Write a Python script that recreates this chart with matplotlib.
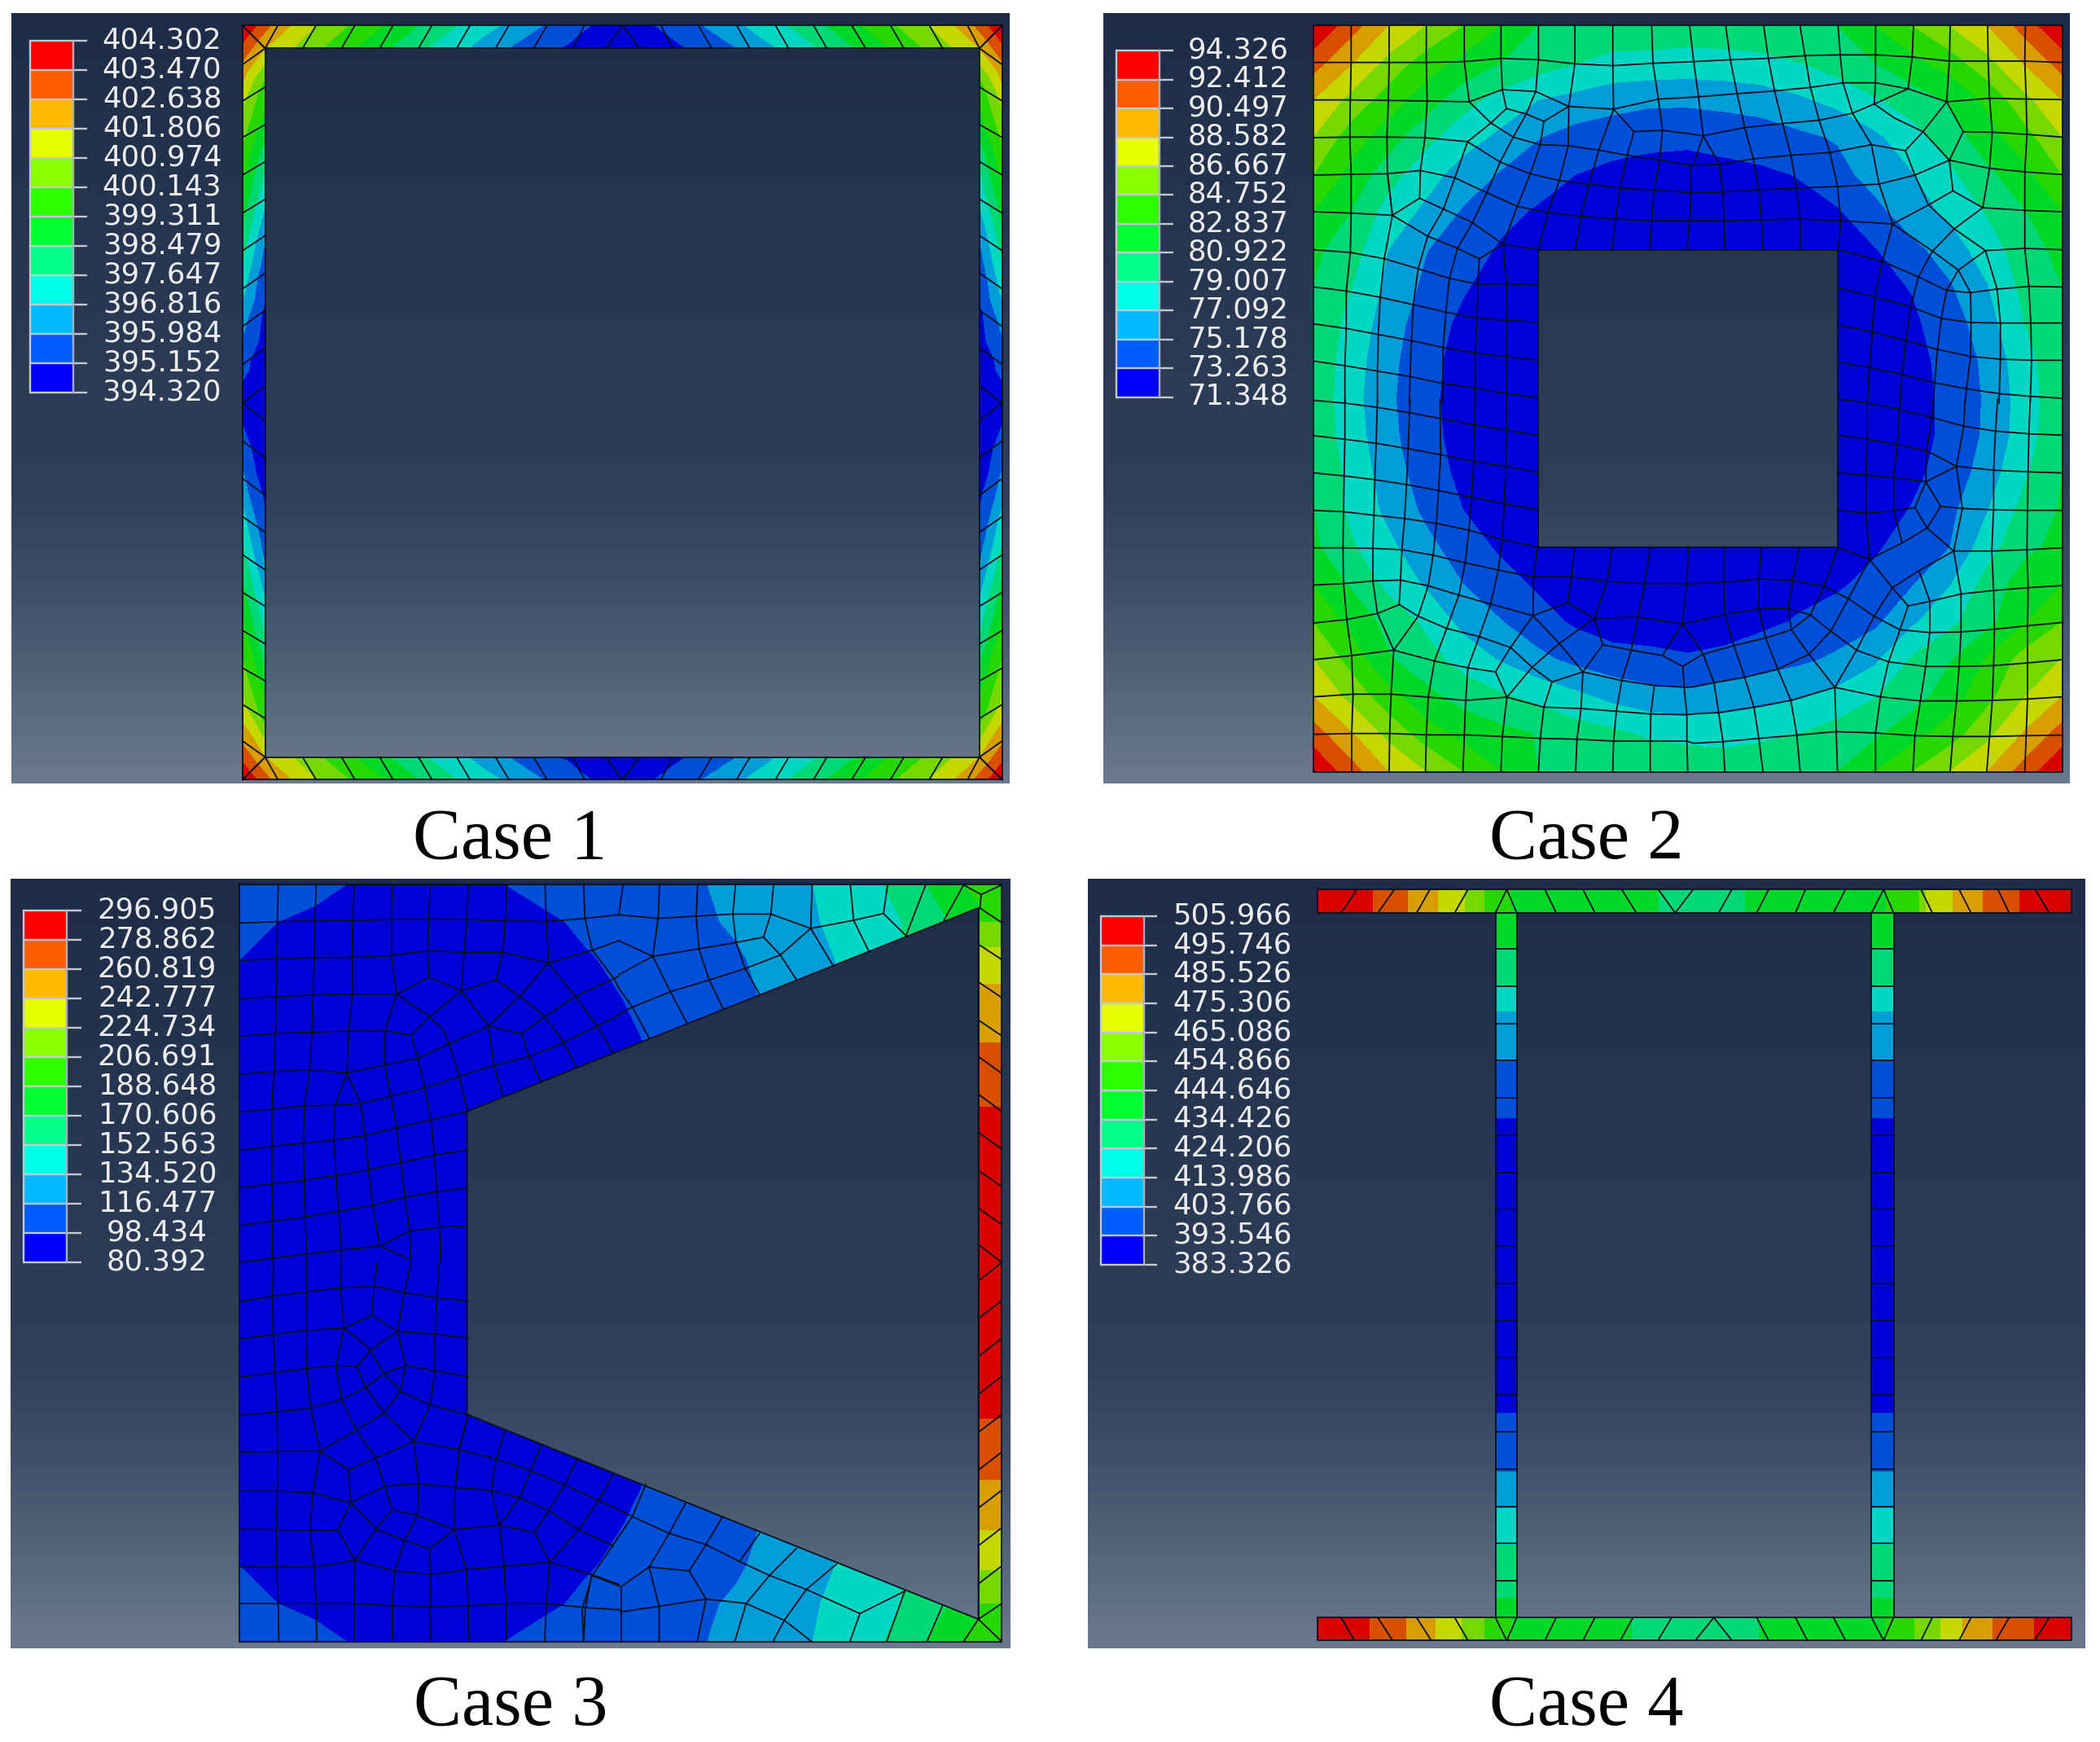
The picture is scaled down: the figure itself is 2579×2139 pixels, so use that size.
import numpy as np
import matplotlib
matplotlib.use("Agg")
import matplotlib.pyplot as plt
import matplotlib.tri as mtri
from matplotlib.patches import Rectangle, PathPatch
from matplotlib.path import Path
from matplotlib.colors import ListedColormap

W, H = 2579, 2139
N = np.nan
legend_rgb = ['#0000ff', '#005dff', '#00b9ff', '#00ffe8', '#00ff8b', '#00ff2e', '#2eff00', '#8bff00', '#e8ff00', '#ffb900', '#ff5d00', '#ff0000']
field_rgb = ['#0000d8', '#004fd8', '#009dd8', '#00d8c4', '#00d875', '#00d827', '#27d800', '#75d800', '#c4d800', '#d89d00', '#d84f00', '#d80000']
levels = np.arange(13)
bg_stops = [0.0, 0.35, 0.62, 0.75, 0.88, 1.0]
bg_rgb = [(30, 44, 71), (40, 56, 82), (47, 63, 88), (62, 79, 103), (84, 101, 124), (108, 122, 145)]

labels1 = ['404.302', '403.470', '402.638', '401.806', '400.974', '400.143', '399.311', '398.479', '397.647', '396.816', '395.984', '395.152', '394.320']
labels2 = ['94.326', '92.412', '90.497', '88.582', '86.667', '84.752', '82.837', '80.922', '79.007', '77.092', '75.178', '73.263', '71.348']
labels3 = ['296.905', '278.862', '260.819', '242.777', '224.734', '206.691', '188.648', '170.606', '152.563', '134.520', '116.477', '98.434', '80.392']
labels4 = ['505.966', '495.746', '485.526', '475.306', '465.086', '454.866', '444.646', '434.426', '424.206', '413.986', '403.766', '393.546', '383.326']

# ---- Case 1: frame
c1_top_outer = [362, 415, 472, 530, 587, 645, 702, 760, 817, 873, 930, 930, 987, 1043, 1100, 1158, 1215, 1272, 1330, 1388, 1445, 1497]
c1_top_inner = [396, 396, 452, 510, 567, 625, 682, 740, 797, 855, 905, 955, 1005, 1063, 1120, 1178, 1235, 1293, 1350, 1408, 1463, 1463]
c1_top_vo = [12, 9.5, 8, 6.8, 5.7, 4.6, 3.7, 2.8, 1.9, 1.1, .5, .5, 1.1, 1.9, 2.8, 3.7, 4.6, 5.7, 6.8, 8, 9.5, 12]
c1_top_vi = [9, 9, 7.6, 6.4, 5.3, 4.2, 3.3, 2.3, 1.4, .8, .3, .3, .8, 1.4, 2.3, 3.3, 4.2, 5.3, 6.4, 7.6, 9, 9]
c1_left_outer = [45, 115, 180, 245, 312, 380, 447, 515, 582, 650, 718, 718, 786, 853, 921, 989, 1056, 1124, 1191, 1256, 1321, 1391]
c1_left_inner = [86, 86, 155, 222, 288, 355, 420, 487, 553, 620, 688, 750, 816, 883, 949, 1016, 1081, 1148, 1214, 1281, 1350, 1350]
c1_left_vo = [12, 9.8, 8.2, 7.2, 6.3, 5.3, 4.3, 3.3, 2.2, 1.3, .6, .6, 1.3, 2.2, 3.3, 4.3, 5.3, 6.3, 7.2, 8.2, 9.8, 12]
c1_left_vi = [9, 9, 6.5, 5.5, 4.2, 3.2, 2.1, 1.3, .8, .5, .2, .2, .5, .8, 1.3, 2.1, 3.2, 4.2, 5.5, 6.5, 9, 9]

# ---- Case 2: plate with a square hole, nodal band values
c2_x = [392, 448, 504, 560, 616, 672, 728, 784, 840, 896, 952, 1008, 1064, 1120, 1176, 1232, 1288, 1344, 1400, 1456, 1512]
c2_y = [45, 111, 178, 244, 311, 377, 445, 510, 577, 643, 710, 777, 843, 909, 976, 1042, 1109, 1175, 1242, 1308, 1376]
c2_z = [
 [12,10.45,9,8,7,6,5,4.85,4.7,4.6,4.55,4.6,4.7,4.85,5,6,7,8,9,10.45,12],
 [10.45,9.1,7.7,6.5,5.7,5.0,4.5,4.05,3.7,3.7,3.6,3.65,3.75,4.0,4.45,5.0,5.7,6.5,7.7,9.1,10.45],
 [9,7.7,6.5,5.5,4.4,3.6,3.0,2.7,2.4,2.2,2.2,2.3,2.5,2.85,3.3,3.9,4.5,5.1,6.2,7.7,9],
 [8,6.5,5.5,4.3,3.4,2.8,2.05,1.6,1.4,1.25,1.2,1.35,1.45,1.8,2.1,2.8,3.6,4.5,5.6,6.6,8],
 [7,5.7,4.4,3.4,2.6,1.9,1.4,1.0,.75,.65,.6,.7,.85,1.05,1.65,2.4,2.95,3.8,4.75,5.7,7],
 [6,5,3.6,2.8,1.9,1.25,.9,.6,.5,.45,.4,.45,.55,.7,.9,1.7,2.6,3.2,4.1,4.95,6],
 [5.2,4.5,3,2.05,1.4,.9,.55,.4,.3,.3,.3,.3,.3,.35,.5,.95,1.7,2.5,3.5,4.55,5.3],
 [5.0,4.05,2.75,1.8,1.1,.6,.3,N,N,N,N,N,N,N,.3,.75,1.05,1.9,2.95,4.3,5.0],
 [4.8,3.7,2.5,1.45,.8,.5,.25,N,N,N,N,N,N,N,.25,.6,.85,1.45,2.6,4.0,4.85],
 [4.75,3.5,2.3,1.3,.65,.45,.2,N,N,N,N,N,N,N,.2,.5,.75,1.25,2.25,3.65,4.75],
 [4.7,3.4,2.2,1.25,.6,.4,.2,N,N,N,N,N,N,N,.2,.45,.7,1.2,2.15,3.5,4.7],
 [4.75,3.5,2.3,1.3,.65,.45,.2,N,N,N,N,N,N,N,.2,.45,.7,1.2,2.2,3.55,4.8],
 [5.0,3.7,2.5,1.5,.75,.5,.3,N,N,N,N,N,N,N,.2,.5,.8,1.35,2.5,3.85,5.0],
 [5.05,3.8,2.75,1.8,1.0,.6,.3,N,N,N,N,N,N,N,.25,.6,1.05,1.75,2.95,4.35,5.1],
 [5.2,4.15,3.25,2.3,1.5,.85,.4,.3,.3,.3,.3,.3,.3,.3,.3,.85,1.55,2.0,3.6,4.75,5.3],
 [6,4.9,3.7,2.9,2,1.4,.85,.5,.45,.4,.4,.45,.5,.7,.85,1.35,1.95,2.95,4.4,5.5,6],
 [7,5.7,4.7,3.8,2.7,2.05,1.4,.85,.55,.5,.45,.55,.8,1.1,1.5,1.8,2.85,3.75,4.7,5.95,7],
 [8,6.6,5.1,4.4,3.6,2.9,2.25,1.7,1.35,1.25,1.1,1.25,1.55,1.8,2.15,2.8,4.1,4.9,6.1,7.4,8],
 [9,7.7,6.4,5.3,4.6,4.15,3.7,3.25,2.7,2.35,2.25,2.5,2.65,2.9,3.3,3.95,4.6,5.5,6.7,8,9],
 [10.45,9.1,7.7,6.5,5.7,5.3,4.95,4.5,4.2,3.85,3.75,3.6,3.8,4,4.45,4.8,5.6,6.5,7.7,9.1,10.45],
 [12,10.45,9,8,7,6,5,4.85,4.7,4.6,4.55,4.6,4.7,4.85,5,6,7,8,9,10.45,12],
]
c2_mesh_a = [  # top-left quarter
 [(10,155),(148,155),(288,155),(425,155),(565,152),(700,140),(838,145),(972,160),(1112,167),(1260,158),(1410,152)],
 [(10,293),(145,293),(285,295),(428,297),(583,300),(705,255),(828,262),(950,317),(1115,327),(1280,290),(1410,283)],
 [(10,432),(143,430),(280,430),(420,432),(577,447),(663,378),(720,325),(793,345),(858,372),(950,317)],
 [(583,300),(663,378),(745,430),(845,458),(948,462),(1060,478),(1165,497),(1285,515),(1410,535)],
 [(705,255),(720,325)],
 [(828,262),(793,345),(745,430),(697,522),(648,635),(595,745),(540,840),(510,950),(497,1075),(487,1205),(485,1410)],
 [(858,372),(845,458),(808,565),(760,685),(708,825),(720,970),(722,1100),(722,1240),(720,1410)],
 [(577,447),(697,522),(808,565),(915,590),(1025,603),(1140,618),(1265,625),(1410,635)],
 [(577,447),(530,580),(488,695),(430,795),(395,915),(377,1047),(370,1180),(365,1312),(362,1410)],
 [(10,570),(148,567),(282,565),(403,553),(530,580),(648,635),(760,685),(873,708),(995,722),(1122,732),(1255,738),(1410,738)],
 [(400,655),(488,695),(595,745),(708,825)],
 [(300,718),(400,655),(403,553),(420,432),(428,297),(425,155),(425,20)],
 [(300,718),(430,795),(540,840),(620,878),(708,825)],
 [(10,705),(148,710),(300,718),(282,565)],
 [(10,845),(145,855),(270,878),(395,915),(510,950),(615,972),(722,970),(835,975)],
 [(10,982),(130,997),(255,1020),(377,1047),(497,1075),(612,1097),(722,1105),(835,1112)],
 [(10,1118),(130,1135),(248,1157),(370,1180),(487,1205),(605,1225),(722,1240),(835,1252)],
 [(10,1255),(125,1272),(245,1292),(365,1312),(472,1335),(605,1355),(720,1375),(835,1390)],
 [(148,20),(148,155),(145,293),(143,430),(148,567),(148,710),(145,855),(130,997),(130,1135),(125,1272),(125,1410)],
 [(288,20),(288,155),(285,295),(280,430),(282,565),(300,718),(270,878),(255,1020),(248,1157),(245,1292),(245,1410)],
 [(565,20),(565,152),(583,300)],
 [(700,20),(700,140),(705,255)],
 [(838,20),(838,145),(828,262)],
 [(972,20),(972,160),(950,317),(948,462),(915,590),(873,708),(838,845)],
 [(1112,20),(1112,167),(1115,327),(1060,478),(1025,603),(995,722),(975,845)],
 [(1115,327),(1190,410),(1165,497),(1140,618),(1122,732),(1110,845)],
 [(1190,410),(1295,405),(1410,420)],
 [(1255,20),(1260,158),(1280,290),(1295,405),(1285,515),(1265,625),(1255,738),(1248,845)],
 [(1395,20),(1410,152)],
 [(620,878),(615,972),(612,1097),(605,1225),(605,1355),(605,1410)],
 [(708,825),(838,845)],
 [(1400,535),(1400,635),(1395,738),(1385,845)],
]
c2_mesh_b = [  # top-right quarter
 [(0,152),(135,145),(275,140),(410,130),(540,127),(670,127),(805,135),(942,150),(1085,150),(1220,150),(1358,155)],
 [(0,283),(160,270),(298,260),(430,247),(550,230),(670,230),(790,252),(932,300),(1090,287),(1225,290),(1358,292)],
 [(0,420),(35,425),(188,395),(328,380),(462,368),(585,342),(665,308),(740,360),(845,410),(942,515),(1090,545),(1220,558),(1358,568)],
 [(665,308),(790,252)],
 [(932,300),(845,410),(780,480),(655,458),(585,342)],
 [(932,300),(993,410),(942,515)],
 [(993,410),(1100,412),(1228,420),(1358,430)],
 [(0,535),(95,530),(220,510),(358,497),(502,487),(655,458)],
 [(0,635),(108,632),(240,625),(380,618),(530,612),(683,603),(815,570),(942,515)],
 [(0,738),(112,738),(250,735),(392,732),(542,738),(733,750),(865,680),(955,628),(1065,690),(1220,700),(1358,705)],
 [(955,628),(942,515)],
 [(865,680),(815,570),(780,480)],
 [(1065,690),(960,768),(880,850),(828,945),(800,1055),(782,1180),(768,1305),(760,1410)],
 [(733,750),(880,850),(975,920),(1075,848),(1220,840),(1358,845)],
 [(960,768),(1075,848)],
 [(865,680),(960,768)],
 [(975,920),(1020,1003),(1118,990),(1235,980),(1358,982)],
 [(932,995),(975,920)],
 [(532,845),(695,888),(828,945),(932,995),(1020,1003)],
 [(532,985),(668,1020),(800,1055),(912,1098),(1022,1113),(1130,1115),(1242,1115),(1358,1115)],
 [(532,1122),(658,1148),(782,1180),(898,1212),(1020,1238),(1130,1248),(1245,1252),(1358,1252)],
 [(532,1260),(648,1278),(768,1305),(888,1335),(1005,1357),(1125,1375),(1240,1385),(1358,1392)],
 [(118,20),(135,145),(160,270),(188,395),(220,510),(240,625),(250,735),(255,845)],
 [(258,20),(275,140),(298,260),(328,380),(358,497),(380,618),(392,732),(392,845)],
 [(392,20),(410,130),(430,247),(462,368),(502,487),(530,612),(542,738),(532,845)],
 [(532,20),(540,127),(550,230),(585,342)],
 [(670,20),(670,127),(670,230),(665,308)],
 [(810,20),(805,135),(790,252)],
 [(945,20),(942,150),(932,300)],
 [(1083,20),(1085,150),(1090,287),(1100,412),(1090,545),(1065,690)],
 [(1222,20),(1220,150),(1225,290),(1228,420),(1220,558),(1220,700),(1220,840),(1235,980),(1242,1115),(1245,1252),(1240,1410)],
 [(655,458),(683,603),(733,750),(695,888),(668,1020),(658,1148),(648,1278),(640,1410)],
 [(1075,848),(1118,990),(1130,1115),(1130,1248),(1125,1410)],
 [(1020,1003),(1022,1113),(1020,1238),(1005,1357),(1000,1410)],
 [(932,995),(912,1098),(898,1212),(888,1335),(882,1410)],
 [(0,152),(18,283),(35,425),(0,530)],
 [(35,425),(95,530),(108,632),(112,738),(115,845)],
]
c2_mesh_c = [  # bottom-left quarter
 [(10,5),(125,15),(240,30),(362,50),(478,72),(600,95),(720,115),(835,133)],
 [(10,135),(125,148),(240,163),(358,183),(478,205),(600,230),(718,248),(835,270)],
 [(10,272),(122,283),(235,297),(352,315),(470,337),(592,362),(712,385),(835,408)],
 [(10,410),(120,415),(232,428),(345,440),(462,458),(582,483),(705,518),(835,545)],
 [(10,548),(118,548),(228,550),(335,555),(450,575),(568,603),(690,630),(820,655),(960,655),(1090,672),(1230,680),(1385,680),(1410,680)],
 [(10,685),(120,680),(228,670),(330,667),(432,688),(545,722),(662,755),(818,798)],
 [(10,825),(132,812),(245,790),(325,757),(395,800),(500,845),(620,875),(735,915),(815,988),(888,1042),(1002,1005),(1145,1037),(1265,1055),(1385,1062),(1410,1060)],
 [(818,798),(945,750),(1045,808),(1075,905),(1002,1005),(915,900),(818,798)],
 [(915,900),(1045,808)],
 [(915,900),(815,988),(722,1098)],
 [(735,915),(680,1005),(722,1098),(858,1135),(995,1140),(1125,1150),(1252,1160),(1385,1163),(1410,1160)],
 [(735,915),(818,798)],
 [(1045,808),(1205,803),(1368,828),(1410,820)],
 [(1075,905),(1180,925),(1295,945),(1370,985),(1410,960)],
 [(1295,945),(1368,828),(1410,885)],
 [(10,960),(150,945),(305,925),(455,965),(578,990),(680,1005)],
 [(10,1097),(155,1087),(295,1087),(432,1098),(570,1110),(722,1098)],
 [(10,1235),(150,1232),(290,1232),(425,1237),(565,1237),(705,1243),(845,1250),(980,1253),(1115,1260),(1250,1260),(1385,1260),(1410,1268)],
 [(245,790),(305,925),(395,800)],
 [(325,757),(330,667)],
 [(125,0),(125,148),(122,283),(120,415),(118,548),(120,680),(132,812),(150,945),(155,1087),(150,1232),(150,1370)],
 [(245,0),(240,163),(235,297),(232,428),(228,550),(228,670),(245,790)],
 [(305,925),(295,1087),(290,1232),(288,1370)],
 [(365,0),(358,183),(352,315),(345,440),(335,555),(330,667)],
 [(475,0),(478,205),(470,337),(462,458),(450,575),(432,688),(395,800)],
 [(605,0),(600,230),(592,362),(582,483),(568,603),(545,722),(500,845),(455,965),(432,1098),(425,1237),(422,1370)],
 [(720,0),(718,248),(712,385),(705,518),(690,630),(662,755),(620,875),(578,990),(570,1110),(565,1237),(560,1370)],
 [(835,545),(820,655),(818,798)],
 [(972,545),(960,655),(945,750)],
 [(1110,545),(1090,672),(1045,808)],
 [(1250,545),(1230,680),(1205,803),(1180,925),(1145,1037),(1125,1150),(1115,1260),(1112,1370)],
 [(1390,545),(1385,680),(1368,828)],
 [(1002,1005),(995,1140),(980,1253),(975,1370)],
 [(888,1042),(858,1135),(845,1250),(838,1370)],
 [(722,1098),(705,1243),(700,1370)],
 [(1370,985),(1375,1065),(1385,1163),(1385,1260),(1388,1370)],
 [(1265,1055),(1252,1160),(1250,1260),(1250,1370)],
]
c2_mesh_d = [  # bottom-right quarter
 [(532,0),(640,15),(758,38),(878,68),(995,100),(1112,118),(1235,128),(1358,133)],
 [(532,133),(640,148),(750,168),(858,190),(968,248),(1105,262),(1232,268),(1358,272)],
 [(532,272),(635,280),(738,290),(855,305),(968,248)],
 [(532,410),(635,420),(738,412),(815,400),(860,475),(958,560)],
 [(855,305),(815,400)],
 [(855,305),(910,395),(860,475)],
 [(910,395),(990,403),(1105,408),(1230,410),(1358,410)],
 [(860,475),(768,530),(648,590)],
 [(532,547),(648,590)],
 [(958,560),(1098,560),(1228,555),(1358,548)],
 [(958,560),(830,632),(732,695),(665,800),(600,925),(520,1062)],
 [(648,590),(732,695),(790,762),(870,745),(985,718),(1105,705),(1232,695),(1358,687)],
 [(790,762),(760,850),(870,860),(985,858),(1108,848),(1230,835),(1358,823)],
 [(520,1062),(688,1097),(835,1112),(968,1112),(1100,1110),(1230,1105),(1358,1097)],
 [(600,925),(718,968),(855,985),(978,985),(1105,982),(1230,972),(1358,960)],
 [(360,850),(425,940),(520,1062)],
 [(430,795),(505,855),(600,925)],
 [(570,735),(665,800),(760,850)],
 [(648,590),(570,735),(505,855),(425,940),(310,995),(188,1025),(75,1045),(0,1060)],
 [(430,795),(480,690),(532,547)],
 [(480,690),(570,735)],
 [(480,690),(365,668),(240,663),(110,675),(0,680)],
 [(430,795),(348,772),(240,773),(115,793),(0,820)],
 [(360,850),(265,880),(148,908),(35,940),(0,960)],
 [(0,885),(35,940)],
 [(430,795),(360,850)],
 [(348,772),(360,850)],
 [(365,668),(348,772)],
 [(390,547),(365,668)],
 [(250,547),(240,663),(240,773),(265,880),(310,995),(358,1110),(380,1238),(392,1370)],
 [(112,547),(110,675),(115,793),(148,908),(188,1025),(222,1135),(240,1250),(255,1370)],
 [(35,940),(75,1045),(92,1155),(108,1262),(115,1370)],
 [(520,1062),(525,1225),(530,1370)],
 [(0,1160),(92,1155),(222,1135),(358,1110),(520,1062)],
 [(0,1268),(108,1262),(240,1250),(380,1238),(525,1225),(670,1230),(815,1240),(955,1243),(1090,1243),(1225,1240),(1358,1238)],
 [(760,850),(718,968),(688,1097),(670,1230),(670,1370)],
 [(830,632),(870,745),(870,860),(855,985),(835,1112),(815,1240),(808,1370)],
 [(958,560),(985,718),(985,858),(978,985),(968,1112),(955,1243),(945,1370)],
 [(1120,0),(1112,118),(1105,262),(1105,408),(1098,560),(1105,705),(1108,848),(1105,982),(1100,1110),(1090,1243),(1080,1370)],
 [(1240,0),(1235,128),(1232,268),(1230,410),(1228,555),(1232,695),(1230,835),(1230,972),(1230,1105),(1225,1240),(1220,1370)],
 [(1000,0),(995,100),(968,248),(990,403),(958,560)],
 [(885,0),(878,68),(858,190),(855,305)],
 [(762,0),(758,38),(750,168),(738,290),(738,412),(768,530)],
 [(640,0),(640,148),(635,280),(635,420),(648,590)],
]
c2_mesh_groups = [(1610, 25, c2_mesh_a), (2080, 25, c2_mesh_b), (1610, 490, c2_mesh_c), (2080, 490, c2_mesh_d)]

# ---- Case 3: C-shaped section
c3_x = [358, 415, 470, 530, 585, 642, 698, 755, 815, 875, 930, 985, 1040, 1100, 1155, 1215, 1270, 1320, 1385, 1440, 1497]
c3_y = [38, 105, 172, 240, 308, 375, 443, 713, 983, 1050, 1118, 1185, 1253, 1320, 1388]
c3_z = [
 [1.6,1.4,1.2,.95,.85,.8,.9,1.0,1.2,1.35,1.45,1.6,1.9,2.25,2.6,3.0,3.5,4.0,5.0,6.0,6.5],
 [1.3,1.0,.85,.7,.6,.6,.65,.8,.9,1.1,1.35,1.55,1.85,2.1,2.55,2.9,3.4,3.7,4.4,5.4,6.2],
 [1.0,.8,.6,.5,.45,.45,.5,.6,.75,.95,1.1,1.4,1.7,1.9,2.25,2.7,3.2,3.7,4.5,5.3,6.0],
 [.9,.6,.45,.4,.35,.35,.4,.45,.6,.8,1.0,1.3,1.5,1.75,2.15,2.6,3.1,3.6,4.4,5.2,6.0],
 [.8,.5,.4,.3,.3,.3,.3,.4,.5,.7,.9,1.1,1.4,1.7,2.1,2.5,3.0,3.5,4.3,5.1,6.0],
 [.7,.5,.4,.3,.3,.3,.3,.35,.45,.6,.8,1.05,1.3,1.6,2.0,2.4,2.9,3.4,4.2,5.0,6.0],
 [.6,.4,.3,.25,.25,.25,.25,.3,.4,.5,.7,.95,1.2,1.5,1.9,2.3,2.8,3.3,4.1,5.0,6.0],
 [.5,.3,.2,.2,.2,.2,.2,.2,.3,.4,.5,.7,1.0,1.3,1.7,2.1,2.6,3.1,4.0,5.0,6.0],
 [.6,.4,.3,.25,.25,.25,.25,.3,.4,.5,.7,.95,1.2,1.5,1.9,2.3,2.8,3.3,4.1,5.0,6.0],
 [.7,.5,.4,.3,.3,.3,.3,.35,.45,.6,.8,1.05,1.3,1.6,2.0,2.4,2.9,3.4,4.2,5.0,6.0],
 [.8,.5,.4,.3,.3,.3,.3,.4,.5,.7,.9,1.1,1.4,1.7,2.1,2.5,3.0,3.5,4.3,5.1,6.0],
 [.9,.6,.45,.4,.35,.35,.4,.45,.6,.8,1.0,1.3,1.5,1.75,2.15,2.6,3.1,3.6,4.4,5.2,6.0],
 [1.0,.8,.6,.5,.45,.45,.5,.6,.75,.95,1.1,1.4,1.7,1.9,2.25,2.7,3.2,3.7,4.5,5.3,6.0],
 [1.3,1.0,.85,.7,.6,.6,.65,.8,.9,1.1,1.35,1.55,1.85,2.1,2.55,2.9,3.4,3.7,4.4,5.4,6.2],
 [1.6,1.4,1.2,.95,.85,.8,.9,1.0,1.2,1.35,1.45,1.6,1.9,2.25,2.6,3.0,3.5,4.0,5.0,6.0,6.5],
]
c3_strip_y = [38, 105, 150, 215, 320, 435, 713, 990, 1100, 1190, 1260, 1320, 1388]
c3_strip_v = [6.5, 7, 8, 9, 10, 11, 11.6, 11, 10, 9, 8, 7, 6.2]
c3_hole = [(698, 443), (1462, 80), (1462, 1348), (698, 983)]
c3_mesh_a = [  # upper left
 [(15,160),(152,155),(290,152),(430,150),(572,147),(710,145),(850,147),(992,152),(1143,155),(1285,143),(1410,130)],
 [(15,297),(150,293),(288,288),(428,287),(572,280),(705,262),(840,268),(982,268),(1152,307),(1312,260),(1410,225)],
 [(15,438),(148,432),(283,425),(428,422),(592,422),(710,360),(830,410),(958,370),(1045,430),(1150,307)],
 [(592,422),(712,505),(830,410)],
 [(712,505),(645,573),(548,557),(415,558),(280,563),(145,568),(15,577)],
 [(712,505),(760,550),(785,605)],
 [(830,410),(930,540),(1045,430)],
 [(1150,307),(1250,430),(1392,365),(1410,355)],
 [(958,370),(982,268)],
 [(1045,430),(1138,505),(1050,568),(930,540),(785,605),(670,658),(548,683),(408,712),(270,702),(140,707),(15,718)],
 [(1138,505),(1250,430)],
 [(1138,505),(1207,600),(1255,695)],
 [(1050,568),(1080,652),(1125,745)],
 [(1250,430),(1330,540),(1390,640)],
 [(1410,500),(1330,540),(1207,600),(1080,652),(950,685),(822,725),(695,768),(570,798),(458,825),(365,832),(252,833),(132,845),(15,857)],
 [(645,573),(670,658),(695,768),(718,885),(730,1015),(740,1150),(750,1280),(755,1410)],
 [(785,605),(822,725),(853,855)],
 [(930,540),(950,685),(985,800)],
 [(592,422),(548,557),(548,683),(570,798),(592,915),(607,1043),(622,1170),(640,1295),(642,1400)],
 [(408,712),(365,832),(360,960),(368,1090),(378,1222),(388,1365),(388,1410)],
 [(408,712),(458,825),(475,943),(488,1070),(503,1200),(530,1350)],
 [(853,855),(718,885),(592,915),(475,943),(360,960),(248,972),(132,982),(15,997)],
 [(850,997),(730,1015),(607,1043),(488,1070),(368,1090),(252,1108),(132,1122),(15,1135)],
 [(850,1137),(740,1150),(622,1170),(503,1200),(378,1222),(255,1243),(135,1258),(15,1275)],
 [(850,1277),(750,1280),(640,1295),(530,1350),(388,1365),(260,1380),(135,1395),(15,1410)],
 [(530,1350),(642,1400)],
 [(155,20),(152,155),(150,293),(148,432),(145,568),(140,707),(132,845),(132,982),(132,1122),(135,1258),(135,1410)],
 [(295,20),(290,152),(288,288),(283,425),(280,563),(270,702),(252,833),(248,972),(252,1108),(255,1243),(260,1410)],
 [(435,20),(430,150),(428,287),(428,422),(415,558),(408,712)],
 [(575,20),(572,147),(572,280),(592,422)],
 [(715,20),(710,145),(705,262),(710,360)],
 [(855,20),(850,147),(840,268),(830,410)],
 [(998,20),(992,152),(982,268)],
 [(1138,20),(1143,155),(1152,307)],
 [(1280,20),(1285,143),(1312,260),(1392,365),(1410,400)],
]
c3_mesh_b = [  # lower left
 [(15,143),(135,125),(260,108),(385,95),(508,88),(620,112),(740,130),(855,143)],
 [(15,282),(137,267),(262,250),(398,243),(500,195),(595,255),(733,265),(855,280)],
 [(398,243),(495,322),(595,255)],
 [(495,322),(445,385),(368,380),(260,392),(143,407),(15,423)],
 [(495,322),(545,410),(605,475)],
 [(445,385),(478,462),(545,555)],
 [(855,422),(733,400),(625,380),(545,410),(478,462),(388,505),(275,537),(150,552),(15,563)],
 [(605,475),(715,525),(855,562)],
 [(605,475),(545,555),(442,618),(310,695),(155,697),(15,700)],
 [(855,562),(822,690),(808,830),(805,985)],
 [(715,525),(655,660),(515,720),(415,765),(310,695)],
 [(545,555),(655,660),(822,690),(958,725),(1085,768),(1210,820),(1335,878),(1410,912)],
 [(442,618),(515,720),(548,825),(575,912),(668,932),(805,985),(970,968),(1100,995),(1155,1105),(1310,1150),(1410,1187)],
 [(595,255),(625,380),(605,475)],
 [(500,195),(508,88)],
 [(398,243),(368,380),(388,505),(442,618)],
 [(415,765),(422,885),(548,825),(672,815),(808,830),(940,840),(1045,868),(1152,915),(1262,985),(1390,1045)],
 [(15,843),(152,843),(283,850),(422,885),(515,982),(620,1025),(712,1055),(805,985)],
 [(15,983),(148,985),(272,987),(375,987),(438,1097)],
 [(422,885),(375,987)],
 [(575,912),(515,982),(438,1097)],
 [(668,932),(620,1025),(585,1137)],
 [(15,1122),(150,1122),(288,1122),(438,1097),(585,1137),(718,1150),(848,1132),(988,1120),(1155,1105)],
 [(15,1257),(155,1257),(295,1257),(435,1257),(575,1265),(715,1270),(855,1265),(995,1257),(1143,1257),(1287,1272),(1410,1280)],
 [(138,0),(135,125),(137,267),(143,407),(150,552),(155,697),(152,843),(148,985),(150,1122),(155,1257),(157,1392)],
 [(260,0),(260,108),(262,250),(260,392),(275,537),(310,695),(283,850),(272,987),(288,1122),(295,1257),(297,1392)],
 [(388,0),(385,95),(398,243)],
 [(520,0),(508,88)],
 [(645,0),(620,112),(595,255)],
 [(748,0),(740,130),(733,265),(733,400),(715,525)],
 [(438,1097),(435,1257),(435,1392)],
 [(585,1137),(575,1265),(577,1392)],
 [(712,1055),(718,1150),(715,1270),(717,1392)],
 [(655,660),(672,815),(668,932)],
 [(848,1132),(855,1265),(857,1392)],
 [(805,985),(848,1132)],
 [(970,968),(988,1120),(995,1257),(997,1392)],
 [(940,840),(970,968),(1045,868),(1085,768),(1125,672)],
 [(958,725),(940,840)],
 [(958,725),(990,622)],
 [(822,690),(855,562)],
 [(1100,995),(1152,915),(1210,820),(1255,728)],
 [(1155,1105),(1143,1257),(1137,1392)],
 [(1262,985),(1335,878),(1390,780)],
 [(1155,1105),(1262,985)],
 [(1310,1150),(1287,1272),(1280,1392)],
]
c3_mesh_c = [  # upper right
 [(0,130),(145,143),(285,135),(420,127),(560,127),(707,180),(865,150),(975,125),(1058,207)],
 [(0,225),(125,283),(295,255),(432,232),(533,212),(595,278),(707,180),(788,315)],
 [(0,350),(125,283),(190,413),(250,527)],
 [(0,495),(50,470),(190,413),(333,370),(465,328),(595,278),(655,370)],
 [(50,470),(112,585)],
 [(0,400),(50,470)],
 [(15,20),(0,130)],
 [(150,20),(145,143),(125,283)],
 [(290,20),(285,135),(295,255),(333,370),(385,478)],
 [(430,20),(420,127),(432,232),(465,328),(520,425)],
 [(570,20),(560,127),(533,212)],
 [(712,20),(707,180)],
 [(853,20),(865,150),(920,262)],
 [(990,20),(975,125)],
 [(1130,20),(1058,207)],
 [(1270,20),(1195,155)],
 [(1270,20),(1335,55),(1410,20)],
 [(1335,55),(1330,105)],
 [(1330,105),(1410,158)],
]
c3_mesh_groups = [(290, 1080, c3_mesh_a), (290, 1550, c3_mesh_b), (760, 1080, c3_mesh_c)]
c3_mesh_right = [  # lower right and the strip, panel units
 [(925,1153),(945,1165),(1000,1195),(1055,1215),(1105,1245),(1150,1270),(1205,1295),(1285,1338),(1352,1298)],
 [(965,1108),(945,1165),(885,1270)],
 [(1025,1140),(1000,1195),(970,1255)],
 [(1080,1165),(1055,1215),(1030,1262)],
 [(1135,1195),(1105,1245)],
 [(1190,1222),(1150,1270),(1115,1320),(1098,1388)],
 [(1250,1250),(1205,1295),(1172,1350),(1155,1388)],
 [(1055,1312),(1115,1320),(1172,1350),(1213,1388)],
 [(885,1270),(928,1290),(970,1255),(1030,1262),(1055,1312),(985,1325),(928,1335)],
 [(925,1286),(885,1270)],
 [(925,1330),(928,1335)],
 [(928,1290),(928,1335),(928,1388)],
 [(872,1388),(870,1330),(885,1270)],
 [(985,1388),(985,1325),(970,1255)],
 [(1042,1388),(1055,1312)],
 [(1270,1388),(1285,1338)],
 [(1325,1388),(1352,1298)],
 [(1385,1388),(1408,1325)],
 [(1440,1388),(1462,1348),(1497,1388)],
 [(1462,1348),(1497,1320)],
 [(1462,145),(1497,172)],[(1462,212),(1497,240)],[(1462,280),(1497,308)],[(1462,345),(1497,375)],[(1462,412),(1497,443)],[(1462,480),(1497,510)],[(1462,548),(1497,577)],[(1462,615),(1497,645)],[(1462,680),(1497,712)],
 [(1462,745),(1497,712)],[(1462,812),(1497,780)],[(1462,880),(1497,847)],[(1462,947),(1497,915)],[(1462,1015),(1497,983)],[(1462,1082),(1497,1050)],[(1462,1150),(1497,1118)],[(1462,1217),(1497,1185)],[(1462,1285),(1497,1253)],
]

# ---- Case 4: flanges and webs
c4_top_x = [400, 483, 535, 580, 620, 650, 690, 910, 935, 960, 1040, 1240, 1300, 1310, 1350, 1395, 1450, 1528]
c4_top_v = [11.7, 11, 10, 9, 8, 7, 6, 5, 4.6, 4.6, 5, 5.8, 6.9, 8, 9, 10, 11, 11.7]
c4_bot_x = [400, 478, 533, 577, 615, 650, 690, 870, 990, 1060, 1250, 1315, 1365, 1410, 1472, 1528]
c4_bot_v = [11.7, 11, 10, 9, 8, 7, 6, 5, 4.5, 5, 6, 7.5, 9, 10, 11, 11.7]
c4_web_y = [89, 150, 220, 265, 350, 455, 713, 980, 1085, 1150, 1215, 1310, 1345]
c4_web_v = [5.6, 5, 4, 3, 2, 1, .4, 1, 2, 3, 4, 5, 5.6]
c4_web_lines = [153, 220, 287, 352, 418, 485, 552, 618, 683, 750, 817, 882, 948, 1014, 1080, 1147, 1213, 1280]
c4_top_links = [(459,435),(515,490),(568,548),(625,605),(683,666),(683,698),(740,757),(797,815),(855,877),(910,935),(962,935),(1020,1000),(1075,1057),(1130,1115),(1190,1172),(1247,1229),(1247,1262),(1303,1320),(1360,1378),(1418,1435),(1474,1495)]
c4_bot_links = [(435,455),(490,512),(548,570),(605,625),(666,683),(698,683),(757,740),(815,797),(872,853),(930,909),(993,965),(993,1020),(1057,1075),(1115,1133),(1172,1190),(1229,1247),(1262,1247),(1320,1303),(1378,1360),(1435,1415),(1495,1473)]

cases = [
 dict(px=(14, 1240, 16, 962), zx=(17, 1508), zy=(23, 1397), labels=labels1, bar=(45, 110, 73, 700, 130, 242)),
 dict(px=(1354.5, 2541, 16, 962), zx=(78, 1522), zy=(23, 1397), labels=labels2, bar=(98, 162, 90, 708, 183, 280)),
 dict(px=(13, 1241, 1079, 2024), zx=(16, 1510), zy=(28, 1400), labels=labels3, bar=(35, 100, 85, 712, 122, 235)),
 dict(px=(1336, 2561, 1079, 2024), zx=(56, 1549), zy=(28, 1400), labels=labels4, bar=(75, 140, 95, 716, 160, 272)),
]
case_names = ['Case 1', 'Case 2', 'Case 3', 'Case 4']
name_x = [626, 1948, 627, 1948]
name_y = [1054, 1054, 2118, 2118]

fig = plt.figure(figsize=(W / 100, H / 100), dpi=100, facecolor='white')
grad = np.array([[np.interp(t, bg_stops, [c[k] for c in bg_rgb]) / 255 for k in range(3)] for t in np.linspace(0, 1, 512)])[:, None, :]
cmap = ListedColormap(field_rgb)
LINE = dict(color='#06101c', lw=1.3, solid_capstyle='round', solid_joinstyle='round', zorder=5)


def make_axes(c):
    x0, x1, y0, y1 = c['px']
    ax = fig.add_axes([x0 / W, 1 - y1 / H, (x1 - x0) / W, (y1 - y0) / H])
    ax.set_xlim(*c['zx'])
    ax.set_ylim(c['zy'][1], c['zy'][0])
    ax.axis('off')
    ax.imshow(grad, extent=(c['zx'][0], c['zx'][1], c['zy'][1], c['zy'][0]), aspect='auto', zorder=0)
    return ax


def colour_legend(ax, c):
    l, r, t, b, tick, tx = c['bar']
    ys = np.linspace(t, b, 13)
    for k in range(12):
        ax.add_patch(Rectangle((l, ys[k]), r - l, ys[k + 1] - ys[k], fc=legend_rgb[11 - k], ec='none', zorder=3))
    for k, y in enumerate(ys):
        ax.plot([l, tick], [y, y], color='#c3c9d2', lw=1.7, zorder=4, solid_capstyle='butt')
        ax.text(tx, y - 1, c['labels'][k], color='#ebedf0', fontsize=25.5, ha='center', va='center', family='DejaVu Sans', zorder=6)
    ax.plot([l, l], [t, b], color='#c3c9d2', lw=1.7, zorder=4)
    ax.plot([r, r], [t, b], color='#aab0bb', lw=1.7, zorder=4)


def strip(ax, ox, oy, ix, iy, vo, vi):
    xs = np.r_[ox, ix].astype(float)
    ys = np.r_[oy, iy].astype(float)
    zs = np.r_[vo, vi].astype(float)
    n = len(ox)
    tris = []
    for k in range(n - 1):
        a, b, c_, d = k, n + k, n + k + 1, k + 1
        if (xs[b], ys[b]) != (xs[c_], ys[c_]):
            tris.append((a, b, c_))
        if (xs[a], ys[a]) != (xs[d], ys[d]):
            tris.append((a, c_, d))
    ax.tricontourf(mtri.Triangulation(xs, ys, tris), zs, levels=levels, cmap=cmap, zorder=2)
    for k in range(n):
        ax.plot([ox[k], ix[k]], [oy[k], iy[k]], **LINE)


def draw_group(ax, c, ox, oy, lines):
    x0, x1, y0, y1 = c['px']
    zx0, zx1 = c['zx']
    zy0, zy1 = c['zy']
    for line in lines:
        pts = np.array(line, float)
        px = ox + pts[:, 0] / 3
        py = oy + pts[:, 1] / 3
        ax.plot(zx0 + (px - x0) * (zx1 - zx0) / (x1 - x0), zy0 + (py - y0) * (zy1 - zy0) / (y1 - y0), **LINE)


# Case 1
ax = make_axes(cases[0])
colour_legend(ax, cases[0])
one = lambda v, n: [v] * n
n = len(c1_top_outer)
strip(ax, c1_top_outer, one(45, n), c1_top_inner, one(86, n), c1_top_vo, c1_top_vi)
strip(ax, c1_top_outer, one(1390, n), c1_top_inner, one(1350, n), c1_top_vo, c1_top_vi)
m = len(c1_left_outer)
strip(ax, one(362, m), c1_left_outer, one(396, m), c1_left_inner, c1_left_vo, c1_left_vi)
strip(ax, one(1497, m), c1_left_outer, one(1463, m), c1_left_inner, c1_left_vo, c1_left_vi)
ax.plot([362, 1497, 1497, 362, 362], [45, 45, 1390, 1390, 45], **LINE)
ax.plot([396, 1463, 1463, 396, 396], [86, 86, 1350, 1350, 86], **LINE)

# Case 2
ax = make_axes(cases[1])
colour_legend(ax, cases[1])
ax.contourf(c2_x, c2_y, np.ma.masked_invalid(np.array(c2_z)), levels=levels, cmap=cmap, zorder=2, corner_mask=False)
for ox, oy, lines in c2_mesh_groups:
    draw_group(ax, cases[1], ox, oy, lines)
ax.plot([392, 1512, 1512, 392, 392], [45, 45, 1376, 1376, 45], **LINE)
ax.plot([728, 1176, 1176, 728, 728], [445, 445, 976, 976, 445], **LINE)

# Case 3
ax = make_axes(cases[2])
colour_legend(ax, cases[2])
cs = ax.contourf(c3_x, c3_y, np.array(c3_z), levels=levels, cmap=cmap, zorder=2)
outer = [(358, 38), (1497, 38), (1497, 1388), (358, 1388), (358, 38)]
hole = c3_hole + [c3_hole[0]]
verts = outer + hole[::-1]
codes = [Path.MOVETO] + [Path.LINETO] * 3 + [Path.CLOSEPOLY] + [Path.MOVETO] + [Path.LINETO] * 3 + [Path.CLOSEPOLY]
clip = PathPatch(Path(verts, codes), transform=ax.transData, fc='none', ec='none')
ax.add_patch(clip)
cs.set_clip_path(clip)
ax.contourf([1462, 1497], c3_strip_y, np.c_[c3_strip_v, c3_strip_v], levels=levels, cmap=cmap, zorder=3)
for ox, oy, lines in c3_mesh_groups:
    draw_group(ax, cases[2], ox, oy, lines)
for line in c3_mesh_right:
    pts = np.array(line)
    ax.plot(pts[:, 0], pts[:, 1], **LINE)
ax.plot([358, 1497, 1497, 358, 358], [38, 38, 1388, 1388, 38], **LINE)
hp = np.array(hole)
ax.plot(hp[:, 0], hp[:, 1], **LINE)
ax.plot([1462, 1462], [80, 1348], **LINE)

# Case 4
ax = make_axes(cases[3])
colour_legend(ax, cases[3])
ax.contourf(c4_top_x, [47, 89], [c4_top_v, c4_top_v], levels=levels, cmap=cmap, zorder=2)
ax.contourf(c4_bot_x, [1345, 1386], [c4_bot_v, c4_bot_v], levels=levels, cmap=cmap, zorder=2)
for wl, wr in [(666, 698), (1229, 1262)]:
    ax.contourf([wl, wr], c4_web_y, np.c_[c4_web_v, c4_web_v], levels=levels, cmap=cmap, zorder=2)
    for y in c4_web_lines:
        ax.plot([wl, wr], [y, y], **LINE)
    ax.plot([wl, wl], [89, 1345], **LINE)
    ax.plot([wr, wr], [89, 1345], **LINE)
for a, b in c4_top_links:
    ax.plot([a, b], [47, 89], **LINE)
for a, b in c4_bot_links:
    ax.plot([a, b], [1345, 1386], **LINE)
for y0, y1 in [(47, 89), (1345, 1386)]:
    ax.plot([400, 1528, 1528, 400, 400], [y0, y0, y1, y1, y0], **LINE)

for name, x, y in zip(case_names, name_x, name_y):
    fig.text(x / W, 1 - y / H, name, family='Liberation Serif', fontsize=63.7, ha='center', va='baseline', color='black')

fig.savefig('out.png', dpi=100)
